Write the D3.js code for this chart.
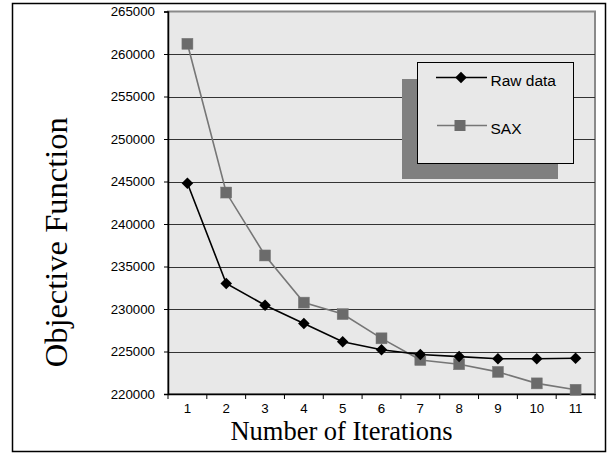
<!DOCTYPE html>
<html><head><meta charset="utf-8">
<script src="https://cdn.jsdelivr.net/npm/d3@7"></script>
<style>body{margin:0;background:#fff}svg{display:block}</style>
</head><body>
<script>
const iterations = [1,2,3,4,5,6,7,8,9,10,11];
const rawData = [244800,233000,230450,228300,226150,225200,224650,224400,224150,224150,224200];
const saxData = [261200,243700,236300,230750,229400,226550,224000,223500,222600,221250,220500];
const yTicks = [220000,225000,230000,235000,240000,245000,250000,255000,260000,265000];
const seriesNames = ["Raw data","SAX"];

const W=608,H=454;
const svg=d3.select("body").append("svg").attr("width",W).attr("height",H);
// outer frame
svg.append("rect").attr("x",12.5).attr("y",3.5).attr("width",593).attr("height",448)
  .attr("fill","#fff").attr("stroke","#000").attr("stroke-width",1.5);

const L=168,R=595,T=11.5,B=394;
const x=d3.scaleBand().domain(iterations).range([L,R]);
const y=d3.scaleLinear().domain([220000,265000]).range([B,T]);

svg.append("rect").attr("x",L).attr("y",T).attr("width",R-L).attr("height",B-T)
  .attr("fill","#e8e8e8").attr("stroke","#8a8a8a").attr("stroke-width",2);

// grid
svg.append("g").selectAll("line").data(yTicks.slice(1,-1)).join("line")
  .attr("x1",L).attr("x2",R).attr("y1",d=>Math.round(y(d))+0.5).attr("y2",d=>Math.round(y(d))+0.5)
  .attr("stroke","#333").attr("stroke-width",1.2);

// y axis
const ya=svg.append("g").attr("transform",`translate(${L},0)`)
  .call(d3.axisLeft(y).tickValues(yTicks).tickSize(4).tickPadding(9).tickFormat(d3.format("d")));
ya.attr("font-size",null);
ya.select(".domain").attr("stroke","#000").attr("stroke-width",1.5);
ya.selectAll(".tick line").attr("stroke","#000");
ya.selectAll("text").attr("font-family","Liberation Sans, Arial, sans-serif").attr("font-size",13.3).attr("fill","#000");

// x axis
const xa=svg.append("g").attr("transform",`translate(0,${B})`)
  .call(d3.axisBottom(x).tickSize(0).tickPadding(10));
xa.select(".domain").attr("stroke","#000").attr("stroke-width",1.5);
xa.selectAll("text").attr("font-family","Liberation Sans, Arial, sans-serif").attr("font-size",13.3).attr("fill","#000");
// boundary ticks
const bounds=iterations.map(d=>x(d)).concat([R]);
svg.append("g").selectAll("line").data(bounds).join("line")
  .attr("x1",d=>d).attr("x2",d=>d).attr("y1",B).attr("y2",B+5).attr("stroke","#000").attr("stroke-width",1);

const cx=d=>x(d)+x.bandwidth()/2;
const line=d3.line().x((d,i)=>cx(iterations[i])).y(d=>y(d));

svg.append("path").datum(saxData).attr("d",line).attr("fill","none").attr("stroke","#767676").attr("stroke-width",1.6);
svg.append("path").datum(rawData).attr("d",line).attr("fill","none").attr("stroke","#000").attr("stroke-width",1.6);

const diamond=d3.symbol().type(d3.symbolDiamond2).size(85);
svg.append("g").selectAll("rect").data(saxData).join("rect")
  .attr("x",(d,i)=>cx(iterations[i])-5.5).attr("y",d=>y(d)-5.5).attr("width",11).attr("height",11)
  .attr("fill","#6b6b6b").attr("stroke","#7a7a7a").attr("stroke-width",0.5);
svg.append("g").selectAll("path").data(rawData).join("path")
  .attr("transform",(d,i)=>`translate(${cx(iterations[i])},${y(d)})`).attr("d",diamond).attr("fill","#000");

// legend
const lg=svg.append("g");
lg.append("rect").attr("x",402).attr("y",79).attr("width",156).attr("height",100).attr("fill","#808080");
lg.append("rect").attr("x",417.5).attr("y",62.5).attr("width",156).attr("height",101).attr("fill","#e8e8e8").attr("stroke","#000").attr("stroke-width",1);
lg.append("line").attr("x1",436).attr("x2",487).attr("y1",77.5).attr("y2",77.5).attr("stroke","#000").attr("stroke-width",1.6);
lg.append("path").attr("transform","translate(461,77.5)").attr("d",diamond).attr("fill","#000");
lg.append("line").attr("x1",437).attr("x2",487).attr("y1",125.5).attr("y2",125.5).attr("stroke","#767676").attr("stroke-width",1.6);
lg.append("rect").attr("x",454.5).attr("y",120).attr("width",11).attr("height",11).attr("fill","#6b6b6b");
lg.selectAll("text.l").data(seriesNames).join("text").attr("class","l")
  .attr("x",490.5).attr("y",(d,i)=>86+i*48).text(d=>d)
  .attr("font-family","Liberation Sans, Arial, sans-serif").attr("font-size",15.5).attr("fill","#000");

// titles
svg.append("text").attr("x",341.5).attr("y",440).attr("text-anchor","middle")
  .attr("font-family","Liberation Serif, Times New Roman, serif").attr("font-size",26.5).text("Number of Iterations");
svg.append("text").attr("transform","translate(66.5,242.3) rotate(-90)").attr("text-anchor","middle")
  .attr("font-family","Liberation Serif, Times New Roman, serif").attr("font-size",32.5).text("Objective Function");
</script>
</body></html>
